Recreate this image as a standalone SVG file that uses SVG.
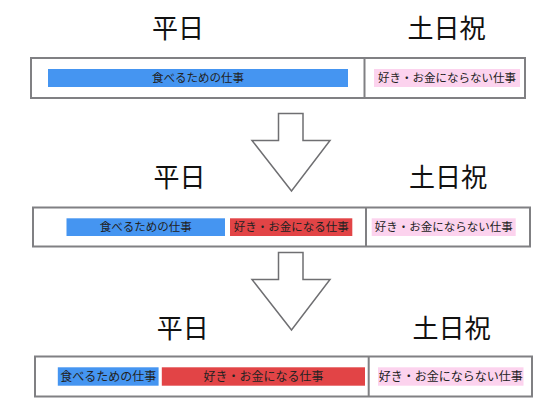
<svg xmlns="http://www.w3.org/2000/svg" width="549" height="413" viewBox="0 0 549 413">
<defs>
<style>
.title{font-family:"Noto Sans CJK JP","Noto Sans CJK SC",sans-serif;font-size:26px;fill:#111;text-anchor:middle}
.lbl{font-family:"Noto Sans CJK JP","Noto Sans CJK SC",sans-serif;font-size:11.5px;fill:#222;text-anchor:middle}
.frame{fill:#fff;stroke:#808083;stroke-width:2}
.div{stroke:#808083;stroke-width:2}
.blue{fill:#4595f1}
.red{fill:#e24446}
.pink{fill:#fcd3ee}
.arrow{fill:#fff;stroke:#6f6f72;stroke-width:1.5;stroke-linejoin:miter}
</style>
</defs>
<rect width="549" height="413" fill="#fff"/>

<g id="row1">
<text class="title" x="178" y="37.5">平日</text>
<text class="title" x="446.5" y="37.5">土日祝</text>
<rect class="frame" x="31" y="58" width="494" height="40"/>
<line class="div" x1="364.5" y1="58" x2="364.5" y2="98"/>
<g id="r1-eat"><rect class="blue" x="48" y="69" width="300" height="18"/><text class="lbl" x="198" y="82">食べるための仕事</text></g>
<g id="r1-hobby"><rect class="pink" x="374" y="69" width="146" height="18"/><text class="lbl" x="447" y="82">好き・お金にならない仕事</text></g>
</g>

<g id="connectors">
<path id="arrow1" class="arrow" d="M278.5,113.5 H303 V140.5 H330 L291.5,191 L252,140.5 H278.5 Z"/>
<path id="arrow2" class="arrow" d="M278.5,252.5 H303 V279.5 H330 L291.5,330 L252,279.5 H278.5 Z"/>
</g>

<g id="row2">
<text class="title" x="179.5" y="186.5">平日</text>
<text class="title" x="448" y="186.5">土日祝</text>
<rect class="frame" x="33" y="207.5" width="497" height="39"/>
<line class="div" x1="366" y1="207.5" x2="366" y2="246.5"/>
<g id="r2-eat"><rect class="blue" x="66.5" y="218.3" width="158.5" height="17.7"/><text class="lbl" x="145.7" y="231.3">食べるための仕事</text></g>
<g id="r2-love"><rect class="red" x="230" y="218.3" width="122.3" height="17.7"/><text class="lbl" x="291.2" y="231.3">好き・お金になる仕事</text></g>
<g id="r2-hobby"><rect class="pink" x="371.7" y="218.3" width="144" height="17.7"/><text class="lbl" x="443.7" y="231.3">好き・お金にならない仕事</text></g>
</g>

<g id="row3">
<text class="title" x="182.8" y="337.5">平日</text>
<text class="title" x="451.5" y="337.5">土日祝</text>
<rect class="frame" x="35" y="356.5" width="497" height="40"/>
<line class="div" x1="368.7" y1="356.5" x2="368.7" y2="396.5"/>
<g id="r3-eat"><rect class="blue" x="57.8" y="367.3" width="100.8" height="18.4"/><text class="lbl" x="108.2" y="380.6" style="font-size:12px">食べるための仕事</text></g>
<g id="r3-love"><rect class="red" x="161.8" y="367.3" width="203.2" height="18.4"/><text class="lbl" x="263.4" y="380.6" style="font-size:12px">好き・お金になる仕事</text></g>
<g id="r3-hobby"><rect class="pink" x="378" y="367.3" width="145.5" height="18.4"/><text class="lbl" x="450.7" y="380.6" style="font-size:12px">好き・お金にならない仕事</text></g>
</g>
</svg>
